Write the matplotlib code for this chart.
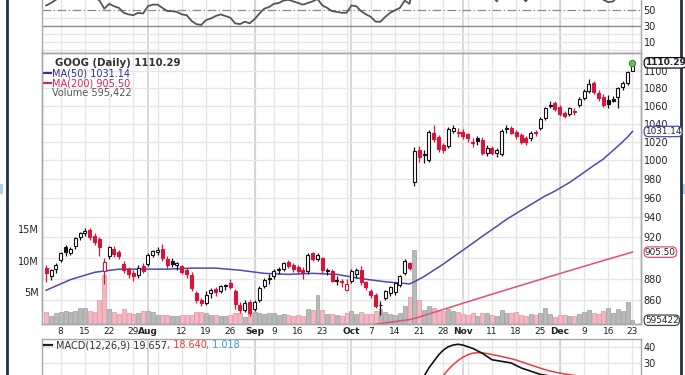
import numpy as np
import pandas as pd
import matplotlib
matplotlib.use("Agg")
import matplotlib.pyplot as plt
from matplotlib.transforms import blended_transform_factory as btf
from matplotlib.lines import Line2D
from matplotlib.patches import Rectangle

plt.rcParams['font.family'] = ['DejaVu Sans']

# ---------------- data ----------------
holidays = ["2013-07-04", "2013-09-02", "2013-11-28"]
prev_close0 = 888.0

opens = [890, 882, 889, 898, 910, 905, 911, 920, 924, 927,
         921, 918, 887, 902, 909, 906, 894, 889, 885, 883,
         892, 894, 903, 906, 909, 899, 897, 893, 892, 888,
         883, 866, 860, 857, 866, 870, 868, 873, 876, 868,
         855, 851, 858, 852, 860, 873, 881, 882, 888, 889,
         896, 893, 891, 888, 887, 905, 899, 900, 887, 887,
         878, 878, 869, 878, 884, 888, 877, 868, 865, 855,
         862, 866, 867, 874, 885, 895, 976, 1011, 1005.5, 1000,
         1029, 1025, 1016, 1015, 1032, 1030, 1031, 1028, 1019, 1024,
         1022, 1007, 1013, 1007, 1006, 1034, 1035, 1031, 1027, 1024,
         1024, 1030, 1035, 1046, 1060, 1063, 1059, 1052, 1051, 1054,
         1061, 1069, 1077, 1086, 1075, 1070, 1067, 1068, 1070, 1082,
         1086, 1101]
highs = [893, 889, 895, 906, 912, 910, 920, 925, 929, 929,
         924, 920, 900, 911, 911, 908, 897, 891, 888, 893,
         895, 905, 908, 910, 913, 902, 900, 896, 893, 890,
         886, 868, 862, 868, 871, 872, 874, 875, 880, 870,
         858, 860, 860, 860, 873, 881, 884, 889, 891, 896,
         898, 895, 893, 891, 905, 906, 905, 901, 890, 889,
         882, 880, 880, 889, 890, 892, 878, 870, 866, 859,
         869, 873, 877, 883, 899, 896, 1014, 1015, 1011, 1033,
         1038, 1027, 1018, 1036, 1038, 1035, 1034, 1030, 1024, 1026,
         1025, 1016, 1015, 1013, 1034, 1038, 1037, 1033, 1029, 1026,
         1032, 1033, 1047, 1059, 1065, 1066, 1061, 1054, 1059, 1057,
         1070, 1079, 1091, 1089, 1078, 1074, 1072, 1071, 1082, 1089,
         1100, 1112]
lows = [877, 879, 885, 896, 902, 903, 909, 917, 921, 917,
        912, 902, 875, 899, 901, 899, 885, 881, 878, 881,
        885, 892, 901, 903, 897, 890, 891, 888, 884, 881,
        868, 857, 854, 855, 862, 864, 866, 869, 870, 852,
        848, 849, 845, 850, 858, 871, 875, 880, 884, 887,
        890, 886, 884, 880, 884, 897, 897, 885, 883, 877,
        874, 872, 868, 876, 881, 874, 869, 862, 853, 846,
        860, 864, 865, 872, 883, 888, 972, 998, 997, 998,
        1020, 1009, 1007, 1013, 1029, 1025, 1023, 1020, 1014, 1016,
        1005, 1004, 1005, 1003, 1004, 1030, 1028, 1023, 1017, 1016,
        1021, 1026, 1033, 1044, 1058, 1054, 1049, 1046, 1049, 1050,
        1059, 1067, 1075, 1074, 1066, 1059, 1058, 1064, 1057, 1078,
        1084, 1100]
closes = [885, 888, 893, 905, 906, 909, 919, 924, 926, 920,
          915, 910, 896, 910, 904, 902, 888, 884, 882, 890,
          887, 903, 907, 908, 900, 893, 894, 894.5, 886, 884,
          871, 860, 857, 865, 869, 867, 873, 873.5, 872, 856,
          851, 857, 848, 858, 871, 879, 880, 887, 889, 895,
          892, 889, 887, 886, 903, 899, 903, 888, 888.5, 878,
          879, 877, 875, 887, 888, 877, 872, 865, 854, 855.5,
          868, 872, 876, 882, 897, 890, 1010, 1003, 1006, 1031,
          1023, 1012, 1011, 1034, 1035, 1030.5, 1026, 1024, 1018, 1021,
          1008, 1013, 1008, 1011, 1032, 1035, 1030, 1026, 1020, 1019,
          1030, 1029.5, 1045, 1057, 1061, 1056, 1051, 1049, 1057, 1053.5,
          1068, 1077, 1085, 1076, 1069, 1061, 1062, 1066, 1080, 1087,
          1099, 1110.29]
volumes_m = [1.9, 1.2, 1.8, 1.9, 2.0, 1.9, 2.0, 2.6, 2.6, 2.0,
             1.9, 3.8, 7.7, 2.4, 1.9, 1.6, 2.4, 1.7, 1.6, 1.7,
             2.1, 2.0, 1.9, 1.4, 1.5, 1.5, 1.3, 1.3, 1.5, 1.4,
             1.5, 1.9, 1.9, 1.8, 1.5, 1.4, 1.2, 1.3, 1.5, 1.8,
             1.8, 1.1, 1.7, 1.9, 1.8, 1.6, 1.7, 1.7, 1.5, 1.6,
             1.4, 1.2, 1.5, 1.3, 2.4, 2.2, 4.6, 2.2, 1.6, 1.6,
             1.4, 1.3, 1.7, 2.1, 1.6, 1.9, 1.6, 1.6, 2.1, 2.4,
             1.9, 1.6, 1.4, 1.7, 2.8, 4.3, 11.7, 3.8, 2.2, 2.8,
             2.5, 2.2, 2.0, 2.4, 2.0, 1.9, 1.6, 1.4, 1.7, 1.3,
             1.8, 1.7, 1.4, 1.3, 2.2, 1.7, 1.8, 1.9, 1.5, 1.3,
             1.6, 1.4, 1.8, 2.5, 1.6, 1.1, 1.5, 1.4, 1.3, 1.2,
             1.6, 1.9, 2.2, 1.8, 1.6, 2.1, 2.5, 1.7, 2.4, 2.0,
             3.5, 0.595422]

ma50_idx = [0, 5, 10, 15, 20, 25, 30, 35, 40, 45, 50, 55, 60, 65, 70, 75, 76,
            78, 80, 82, 85, 88, 90, 93, 95, 98, 100, 103, 105, 108, 110, 113,
            115, 118, 120, 121]
ma50_val = [869, 879, 886, 889, 889, 889, 890, 890, 888, 885, 884, 885, 884, 880,
            877, 875, 877, 882, 888, 894, 904, 914, 921, 931, 938, 947, 953, 962,
            967, 976, 983, 994, 1001, 1015, 1025, 1031.14]
ma200_idx = [0, 15, 30, 45, 60, 65, 70, 75, 76, 80, 85, 90, 95, 100, 105, 110,
             115, 120, 121]
ma200_val = [812, 818, 823, 828, 832, 836, 839, 842, 843, 848.5, 855.5, 862.5,
             869.5, 876.4, 883.4, 890.3, 897.3, 904.1, 905.5]

rsi = [55, 58, 62, 66, 67, 68, 71, 73, 73, 68,
       65, 61, 51, 57, 54, 52, 46, 44, 43, 46,
       45, 54, 56, 56, 52, 48, 48, 47, 44, 43,
       36, 32, 31, 37, 39, 42, 44, 42, 40, 33,
       32, 35, 33, 38, 45, 51, 53, 57, 58, 61,
       62, 60, 58, 56, 58, 60, 63, 55, 52, 48,
       47, 46, 46, 55, 54, 48, 44, 41, 35, 35,
       41, 46, 49, 52, 61, 57, 86, 82, 82, 84,
       82, 79, 78, 80, 77, 76, 75, 74, 73, 73,
       68, 70, 67, 60, 72, 72, 71, 68, 66, 60,
       70, 70, 75, 77, 78, 77, 76, 70, 72, 72,
       74, 77, 77, 71, 66, 62, 59, 60, 67, 72,
       75, 78]
macd = [6, 6, 6, 7, 7, 8, 9, 10, 11, 11,
        11, 10, 8, 8, 7, 6, 5, 3, 2, 2,
        1, 2, 3, 3, 3, 2, 1, 0, -1, -2,
        -3, -5, -7, -7, -7, -7, -6, -5, -5, -6,
        -7, -7, -8, -7, -5, -3, -2, -1, 0, 1,
        2, 2, 2, 2, 3, 3, 4, 3, 2, 1,
        0, -1, -1, 0, 0, -1, -2, -3, -4, -5,
        -4, -3, -2, -1, 0, 1, 12, 18, 22, 27,
        31, 35, 38, 40, 41, 41.5, 41, 40, 39, 37.5,
        36, 34, 32, 31.5, 31, 30.5, 30, 28.5, 27, 26,
        25, 24, 23, 22.5, 22, 21.5, 21, 20.5, 20, 20,
        20, 19.8, 19.5, 19.2, 19, 18.8, 18.6, 18.8, 19.0, 19.2,
        19.4, 19.657]
signal = [4, 4, 5, 5, 5, 6, 6, 7, 7, 8,
          9, 9, 9, 9, 8, 8, 7, 7, 6, 5,
          4, 4, 4, 3, 3, 3, 3, 2, 2, 1,
          0, -1, -2, -3, -4, -4, -5, -5, -5, -5,
          -6, -6, -6, -6, -6, -5, -5, -4, -3, -3,
          -2, -1, -1, 0, 0, 1, 1, 1, 2, 2,
          1, 1, 1, 1, 1, 0, 0, -1, -1, -2,
          -2, -2, -2, -2, -1, -1, 3, 6, 9, 12.5,
          16, 19.5, 22.5, 26, 29, 31.5, 33.5, 35, 36, 36.3,
          36.2, 35.8, 35.2, 34.6, 34, 33.3, 32.6, 31.8, 30.8, 29.8,
          28.8, 27.8, 26.8, 25.9, 25.1, 24.4, 23.8, 23.3, 22.8, 22.4,
          22, 21.6, 21.2, 20.8, 20.4, 20, 19.7, 19.4, 19.1, 18.9,
          18.7, 18.64]

price_ticks = [860, 880, 900, 920, 940, 960, 980, 1000, 1020, 1040, 1060, 1080, 1100]
price_hidden = [900]          # covered by the MA(200) tag in the reference
vol_ticks = [5, 10, 15]
vol_tick_labels = ['5M', '10M', '15M']
rsi_ticks = [10, 30, 50]
macd_ticks = [30, 40]

# ---------------- layout ----------------
W, H = 685, 375
fig = plt.figure(figsize=(W / 100, H / 100), dpi=100)
fig.patch.set_facecolor('white')
LPX, RPX = 41.7, 640.7


def axes_px(top, bottom):
    return fig.add_axes([LPX / W, 1 - bottom / H, (RPX - LPX) / W, (bottom - top) / H])


dates = pd.bdate_range("2013-07-02", "2013-12-23")
dates = dates[~dates.isin(pd.to_datetime(holidays))]
n = len(dates)
x = np.arange(n)
XL = (-0.92, 122.7)

week_starts = [i for i in range(1, n) if dates[i].weekday() < dates[i - 1].weekday()]
month_starts = [i for i in range(1, n) if dates[i].month != dates[i - 1].month]
tick_pos, tick_lab, tick_bold = [], [], []
for i in sorted(set(week_starts) | set(month_starts)):
    if i in month_starts:
        tick_pos.append(i); tick_lab.append(dates[i].strftime('%b')); tick_bold.append(True)
    elif all(abs(i - m) > 2 for m in month_starts):
        tick_pos.append(i); tick_lab.append(str(dates[i].day)); tick_bold.append(False)

GRID = '#e6e6e6'
MGRID = '#cdcdcd'
SPINE = '#a8a8a8'
TXT = '#222222'
FS = 7


def vgrid(ax):
    for i in week_starts:
        ax.axvline(i, color=GRID, lw=1.0, zorder=0)
    for i in month_starts:
        ax.axvline(i, color=MGRID, lw=1.1, zorder=0)


def style(ax):
    for s in ax.spines.values():
        s.set_color(SPINE)
        s.set_linewidth(1.0)
    ax.tick_params(length=0, labelsize=FS, colors=TXT, pad=2)


# ---- RSI panel (only its lower part is in view) ----
ax_rsi = axes_px(0, 53)
ax_rsi.set_xlim(*XL)
ax_rsi.set_ylim(-3.54, 61.7)
vgrid(ax_rsi)
for g in [0, 10, 20, 40]:
    ax_rsi.axhline(g, color=GRID, lw=1.0, zorder=0)
ax_rsi.axhline(50, color='#8a8a8a', lw=0.9, ls=(0, (7, 2, 1, 2)), zorder=1)
ax_rsi.axhline(30, color='#8a8a8a', lw=1.0, zorder=1)
ax_rsi.plot(x, rsi, color='#555555', lw=1.3, zorder=3)
ax_rsi.set_xticks([])
ax_rsi.yaxis.tick_right()
ax_rsi.set_yticks(rsi_ticks)
ax_rsi.set_yticklabels([str(t) for t in rsi_ticks])
style(ax_rsi)
ax_rsi.spines['top'].set_visible(False)

# ---- price panel ----
ax_vol = axes_px(53, 324)
ax_price = ax_vol.twinx()
ax_vol.set_zorder(1)
ax_price.set_zorder(2)
ax_price.patch.set_visible(False)
ax_vol.set_xlim(*XL)
ax_vol.set_ylim(0, 271 / 6.33)
ax_price.set_yscale('log')
ax_price.set_ylim(838.0, 1122.1)
ax_price.set_xlim(*XL)

vgrid(ax_vol)
tr = btf(ax_vol.transAxes, ax_price.transData)
for p in price_ticks:
    ax_vol.plot([0, 1], [p, p], transform=tr, color=GRID, lw=1.0, zorder=0)

pc = [prev_close0] + closes[:-1]
down = [closes[i] < pc[i] for i in range(n)]
vcol = ['#f3b9c3' if d else '#b9b9b9' for d in down]
vedge = ['#e391a2' if d else '#9d9d9d' for d in down]
ax_vol.bar(x, volumes_m, width=0.82, color=vcol, edgecolor=vedge, lw=0.5, zorder=2)
ax_vol.set_yticks(vol_ticks)
ax_vol.set_yticklabels(vol_tick_labels)
ax_vol.set_xticks(tick_pos)
ax_vol.set_xticklabels(tick_lab)
style(ax_vol)
style(ax_price)
ax_vol.tick_params(axis='x', labelsize=6.5)
for lab, b in zip(ax_vol.get_xticklabels(), tick_bold):
    if b:
        lab.set_fontweight('bold')

ax_price.plot(ma50_idx, ma50_val, color='#4a4ab0', lw=1.1, zorder=3)
ax_price.plot(ma200_idx, ma200_val, color='#e2506e', lw=1.1, zorder=3)

RED = '#d8143c'
BLK = '#111111'
for i in range(n):
    o, h, l, c = opens[i], highs[i], lows[i], closes[i]
    col = RED if c < pc[i] else BLK
    ax_price.vlines(i, l, h, color=col, lw=0.9, zorder=4)
    bot = min(o, c)
    ht = max(abs(c - o), 0.7)
    fc = col if c < o else 'white'
    ax_price.bar(i, ht, bottom=bot, width=0.62, color=fc, edgecolor=col, lw=0.8, zorder=5)

ax_price.plot([n - 1], [closes[-1]], 'o', ms=4.5, mfc='#6cc05a', mec='#3f8a35', mew=0.8, zorder=6)

ax_price.yaxis.tick_right()
ax_price.set_yticks(price_ticks)
ax_price.set_yticklabels(['' if t in price_hidden else str(t) for t in price_ticks])
ax_price.yaxis.set_minor_locator(matplotlib.ticker.NullLocator())


def tag(ax, yval, text, ec, bold=False, fs=6.4):
    t = btf(ax.transAxes, ax.transData)
    ax.annotate(text, xy=(1.0, yval), xycoords=t, xytext=(3.0, 0), textcoords='offset points',
                ha='left', va='center', fontsize=fs, color=TXT,
                fontweight='bold' if bold else 'normal', annotation_clip=False, zorder=10,
                bbox=dict(boxstyle='round,pad=0.08,rounding_size=0.5', fc='white', ec=ec, lw=0.9))


tag(ax_price, closes[-1], '1110.29', '#111111', bold=True, fs=6.5)
tag(ax_price, ma50_val[-1], '1031.14', '#4a4ab0')
tag(ax_price, ma200_val[-1], '905.50', '#e2506e')
tag(ax_vol, volumes_m[-1], '595422', '#444444')

# ---- MACD panel (only its upper part is in view) ----
ax_macd = axes_px(339, 375)
ax_macd.set_xlim(*XL)
ax_macd.set_ylim(22.64, 44.72)
vgrid(ax_macd)
for g in macd_ticks:
    ax_macd.axhline(g, color=GRID, lw=1.0, zorder=0)
ax_macd.plot(x, signal, color='#f03c3c', lw=1.1, zorder=3)
ax_macd.plot(x, macd, color='#111111', lw=1.2, zorder=4)
ax_macd.set_xticks([])
ax_macd.yaxis.tick_right()
ax_macd.set_yticks(macd_ticks)
ax_macd.set_yticklabels([str(t) for t in macd_ticks])
style(ax_macd)
ax_macd.spines['bottom'].set_visible(False)


def fx(px): return px / W
def fy(py): return 1 - py / H


r = fig.canvas.get_renderer()


def seq_text(x0, y0, parts, **kw):
    xx = x0
    for s, col in parts:
        t = fig.text(fx(xx), fy(y0), s, color=col, va='center', ha='left', fontsize=FS, **kw)
        xx += t.get_window_extent(renderer=r).width


for bx, by0, by1 in [(45, 59, 67), (47.5, 60, 66), (50, 58, 65)]:
    fig.add_artist(Rectangle((fx(bx), fy(by1)), 1.6 / W, (by1 - by0) / H, transform=fig.transFigure,
                             color='#222222', lw=0))
fig.text(fx(55), fy(63), 'GOOG (Daily) 1110.29', fontsize=7.3, fontweight='bold', color='#333333',
         va='center')
fig.add_artist(Line2D([fx(44), fx(51)], [fy(73), fy(73)], color='#2e2ea0', lw=1.5))
fig.text(fx(51.5), fy(73), 'MA(50) 1031.14', fontsize=FS, color='#2e2ea0', va='center')
fig.add_artist(Line2D([fx(44), fx(51)], [fy(83), fy(83)], color='#e0204a', lw=1.5))
fig.text(fx(51.5), fy(83), 'MA(200) 905.50', fontsize=FS, color='#e0204a', va='center')
for bx, bh in [(44.5, 5), (46.5, 7), (48.5, 4), (50.5, 6)]:
    fig.add_artist(Rectangle((fx(bx), fy(96)), 1.4 / W, bh / H, transform=fig.transFigure,
                             color='#777777', lw=0))
fig.text(fx(52.5), fy(93), 'Volume 595,422', fontsize=FS, color='#555555', va='center')

fig.add_artist(Line2D([fx(44), fx(52)], [fy(345), fy(345)], color='#222222', lw=1.6))
seq_text(55.5, 345, [('MACD(12,26,9) 19.657', '#333333'), (', 18.640', '#f03c3c'),
                     (', 1.018', '#3a9ad9')])

for xp in (7, 681):
    fig.add_artist(Line2D([fx(xp), fx(xp)], [0, 1], color='#24313f', lw=2.0))
for xp in (0, 682):
    fig.add_artist(Rectangle((fx(xp), fy(194)), 3 / W, 10 / H, transform=fig.transFigure,
                             color='#a9d2f2', lw=0))

fig.savefig('out.png', dpi=100)
